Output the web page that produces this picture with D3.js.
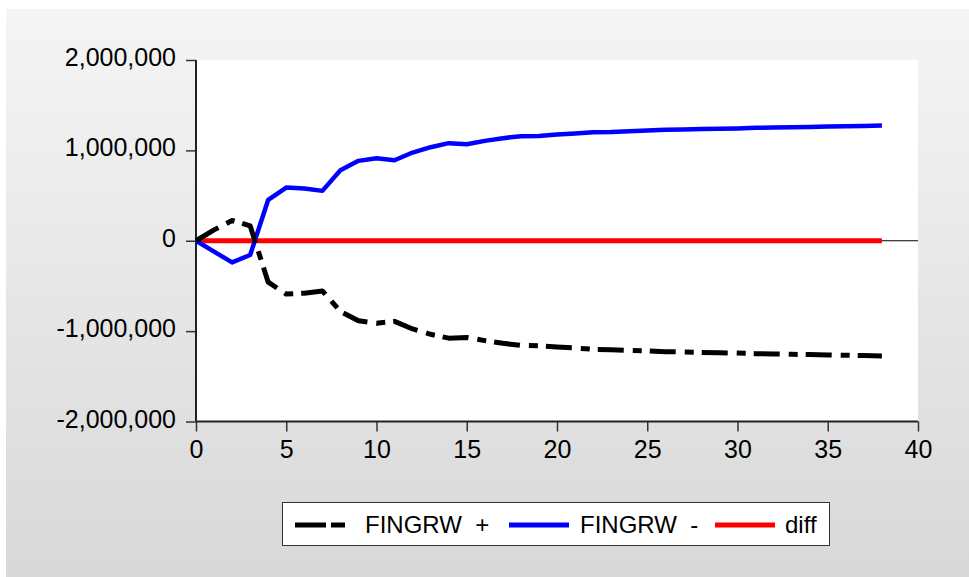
<!DOCTYPE html>
<html lang="en">
<head>
    <meta charset="UTF-8">
    <title>FINGRW responses</title>
    <style>
        body {
            margin: 0;
            background-color: #fff;
        }

        svg text {
            font-family: Arial, "Liberation Sans", sans-serif;
            font-size: 25px;
            fill: #000;
        }

        .legend text {
            font-size: 24px;
        }
    </style>
</head>
<body>
    <svg id="chart" width="969" height="577"></svg>

    <script src="https://cdnjs.cloudflare.com/ajax/libs/d3/7.8.5/d3.min.js"></script>
    <script>
        // periods 0..38
        const periods = d3.range(0, 39);

        // FINGRW + (black, dashed)
        const fingrwPlus = [
            0, 120000, 225000, 165000, -458000, -590000, -580000, -555000, -782000, -885000,
            -913000, -892000, -976000, -1035000, -1078000, -1070000, -1105000, -1135000, -1157000, -1161000,
            -1175000, -1187000, -1201000, -1205000, -1213000, -1220000, -1227000, -1231000, -1236000, -1239000,
            -1243000, -1249000, -1252000, -1256000, -1260000, -1263000, -1267000, -1271000, -1274000
        ];

        // FINGRW - (blue)
        const fingrwMinus = [
            0, -120000, -240000, -158000, 453000, 589000, 578000, 552000, 781000, 884000,
            913000, 891000, 976000, 1035000, 1080000, 1068000, 1105000, 1135000, 1157000, 1160000,
            1175000, 1186000, 1201000, 1204000, 1212000, 1219000, 1227000, 1230000, 1236000, 1238000,
            1243000, 1249000, 1252000, 1256000, 1260000, 1263000, 1267000, 1271000, 1274000
        ];

        // diff (red)
        const diff = periods.map(() => 0);

        const yTicks = [-2000000, -1000000, 0, 1000000, 2000000];
        const xTicks = [0, 5, 10, 15, 20, 25, 30, 35, 40];

        const series = [
            { name: 'FINGRW +', values: fingrwPlus, color: '#000000', width: 5, dash: '26,9,9,8' },
            { name: 'FINGRW -', values: fingrwMinus, color: '#0000ff', width: 4.5, dash: null },
            { name: 'diff', values: diff, color: '#ff0000', width: 5, dash: null }
        ];

        const svg = d3.select('#chart');

        // grey panel with vertical gradient
        let grad = svg.append('defs').append('linearGradient')
            .attr('id', 'panelGrad')
            .attr('x1', 0).attr('y1', 0).attr('x2', 0).attr('y2', 1);
        grad.append('stop').attr('offset', '0%').attr('stop-color', '#f5f5f5');
        grad.append('stop').attr('offset', '100%').attr('stop-color', '#d8d8d8');

        svg.append('rect')
            .attr('x', 6).attr('y', 9)
            .attr('width', 963).attr('height', 568)
            .attr('fill', 'url(#panelGrad)');

        const plot = { left: 196, right: 918, top: 60, bottom: 421.5 };

        let x = d3.scaleLinear()
            .domain([0, 40])
            .range([plot.left, plot.right]);

        let y = d3.scaleLinear()
            .domain([-2000000, 2000000])
            .range([plot.bottom, plot.top]);

        svg.append('rect')
            .attr('x', plot.left).attr('y', plot.top)
            .attr('width', plot.right - plot.left)
            .attr('height', plot.bottom - plot.top)
            .attr('fill', '#ffffff');

        // zero line
        svg.append('line')
            .attr('x1', plot.left).attr('x2', plot.right)
            .attr('y1', y(0)).attr('y2', y(0))
            .attr('stroke', '#000').attr('stroke-width', 1);

        // plain hyphen for negatives, like the original
        const fmt = d3.formatLocale({ decimal: '.', thousands: ',', grouping: [3], currency: ['', ''], minus: '-' }).format(',');

        // y axis
        let axisY = d3.axisLeft(y)
            .tickValues(yTicks)
            .tickSize(10)
            .tickPadding(10)
            .tickFormat(fmt);
        let gy = svg.append('g')
            .attr('transform', `translate(${plot.left},0)`)
            .call(axisY);
        gy.select('.domain').remove();
        gy.selectAll('.tick line').attr('stroke', '#333').attr('stroke-width', 1.5);
        gy.selectAll('.tick text').attr('dy', '0.22em');
        gy.attr('font-family', null).attr('font-size', null);

        // x axis
        let axisX = d3.axisBottom(x)
            .tickValues(xTicks)
            .tickSize(10)
            .tickPadding(9);
        let gx = svg.append('g')
            .attr('transform', `translate(0,${plot.bottom})`)
            .call(axisX);
        gx.select('.domain').remove();
        gx.selectAll('.tick line').attr('stroke', '#333').attr('stroke-width', 1.5);
        gx.attr('font-family', null).attr('font-size', null);

        // axis lines
        svg.append('line')
            .attr('x1', plot.left).attr('x2', plot.left)
            .attr('y1', plot.top).attr('y2', plot.bottom)
            .attr('stroke', '#222').attr('stroke-width', 2);
        svg.append('line')
            .attr('x1', plot.left).attr('x2', plot.right)
            .attr('y1', plot.bottom).attr('y2', plot.bottom)
            .attr('stroke', '#222').attr('stroke-width', 2);

        let line = d3.line()
            .x((d, i) => x(periods[i]))
            .y(d => y(d));

        // draw red first, then blue, then black on top
        [series[2], series[1], series[0]].forEach(s => {
            svg.append('path')
                .datum(s.values)
                .attr('d', line)
                .attr('fill', 'none')
                .attr('stroke', s.color)
                .attr('stroke-width', s.width)
                .attr('stroke-linejoin', 'round')
                .attr('stroke-dasharray', s.dash);
        });

        // legend
        let legend = svg.append('g').attr('class', 'legend');
        legend.append('rect')
            .attr('x', 282.5).attr('y', 502.5)
            .attr('width', 547).attr('height', 43)
            .attr('fill', '#fff')
            .attr('stroke', '#333').attr('stroke-width', 1);

        const legendItems = [
            { s: series[0], x0: 295, x1: 346, tx: 365, dash: '31,5,14,100' },
            { s: series[1], x0: 509, x1: 569, tx: 580, dash: null },
            { s: series[2], x0: 715, x1: 775, tx: 785, dash: null }
        ];

        legendItems.forEach(it => {
            legend.append('line')
                .attr('x1', it.x0).attr('x2', it.x1)
                .attr('y1', 525).attr('y2', 525)
                .attr('stroke', it.s.color)
                .attr('stroke-width', 5)
                .attr('stroke-dasharray', it.dash);
            legend.append('text')
                .attr('x', it.tx).attr('y', 533)
                .style('white-space', 'pre')
                .text(it.s.name.replace(' ', '  '));
        });
    </script>
</body>
</html>
